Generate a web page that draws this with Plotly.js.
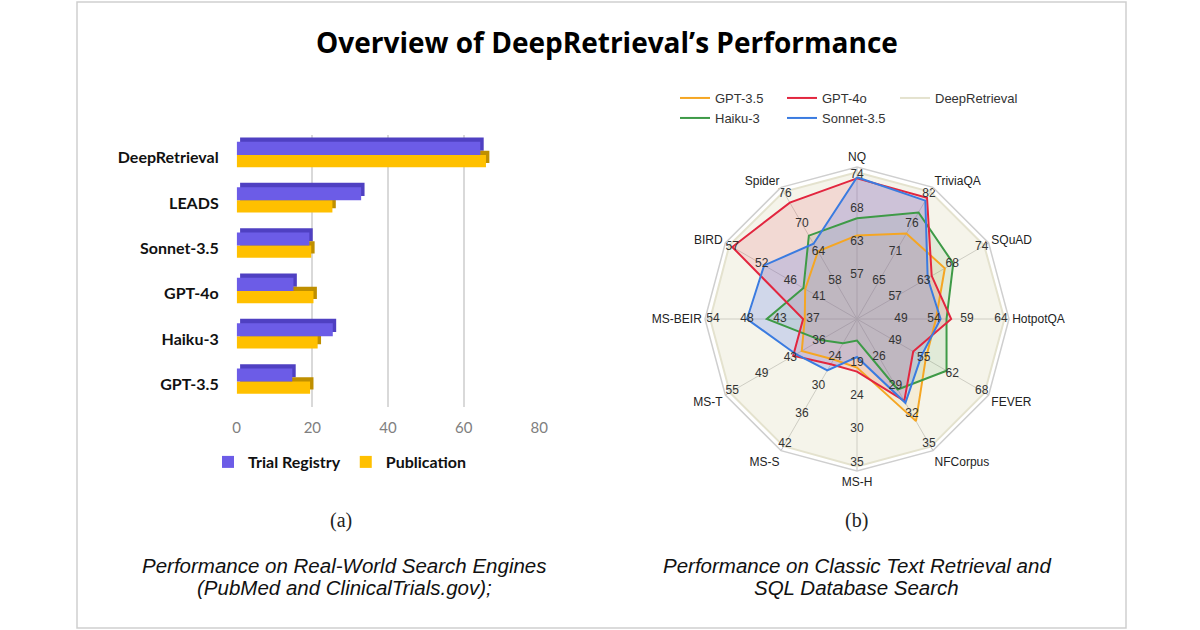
<!DOCTYPE html>
<html><head><meta charset="utf-8">
<script src="https://cdn.plot.ly/plotly-3.0.1.min.js"></script>
<style>html,body{margin:0;padding:0;background:#fff}#chart{width:1200px;height:630px}</style>
</head><body><div id="chart"></div>
<script>
// ---------- Bar chart data (a) ----------
const barCats = ['DeepRetrieval', 'LEADS', 'Sonnet-3.5', 'GPT-4o', 'Haiku-3', 'GPT-3.5'];
const trialRegistry = [64.4, 32.9, 19.2, 15.0, 25.4, 14.7];
const publication = [65.9, 25.3, 19.7, 20.3, 21.4, 19.4];
const barTicks = [0, 20, 40, 60, 80];

// ---------- Radar chart data (b) ----------
const radarAxes = ['NQ', 'TriviaQA', 'SQuAD', 'HotpotQA', 'FEVER', 'NFCorpus', 'MS-H', 'MS-S', 'MS-T', 'MS-BEIR', 'BIRD', 'Spider'];
const axisTicks = [
  [57, 63, 68, 74],
  [65, 71, 76, 82],
  [57, 63, 68, 74],
  [49, 54, 59, 64],
  [49, 55, 62, 68],
  [26, 29, 32, 35],
  [19, 24, 30, 35],
  [24, 30, 36, 42],
  [36, 43, 49, 55],
  [37, 43, 48, 54],
  [41, 46, 52, 57],
  [58, 64, 70, 76]
];
const gpt35 = [64.0, 74.3, 66.7, 54.3, 55.5, 32.7, 19.7, 24.5, 40.2, 38.5, 43.4, 64.2];
const gpt4o = [73.4, 81.3, 64.4, 56.6, 52.8, 30.6, 20.3, 25.5, 42.3, 38.8, 57.0, 74.3];
const haiku3 = [66.6, 78.3, 68.2, 55.9, 60.6, 29.4, 15.6, 21.1, 35.6, 45.0, 43.7, 67.5];
const sonnet35 = [73.6, 80.7, 63.7, 55.0, 54.5, 30.8, 18.1, 26.8, 41.6, 48.0, 51.5, 65.8];
const deepRetrieval = [74.5, 82.5, 74.5, 64.5, 68.6, 35.3, 35.5, 42.5, 55.5, 54.5, 57.5, 76.5];

// ---------- styling / scale (not data) ----------
const RING = [44, 77, 110, 144];   // radial ring positions of the 4 per-axis tick labels
const RMAX = 152;
function toR(v, t) {
  let i = 0;
  if (v > t[1]) i = 1;
  if (v > t[2]) i = 2;
  return RING[i] + (v - t[i]) / (t[i + 1] - t[i]) * (RING[i + 1] - RING[i]);
}
function norm(arr) {
  const r = arr.map((v, i) => toR(v, axisTicks[i]));
  return { r: r.concat([r[0]]), theta: radarAxes.concat([radarAxes[0]]) };
}

const traces = [];

// bars: 3D-like depth faces then front faces
const depthX = 0.9, depthY = 0.095;
const trOff = -0.35, trW = 0.29, pbOff = -0.06, pbW = 0.27;
const purple = '#6C5CE7', purpleDark = '#4F40C2', gold = '#FFC000', goldDark = '#BF8F00';
traces.push({type: 'bar', orientation: 'h', y: barCats, x: trialRegistry, base: depthX,
  offset: trOff - depthY, width: trW, marker: {color: purpleDark}, showlegend: false, hoverinfo: 'skip',
  xaxis: 'x', yaxis: 'y'});
traces.push({type: 'bar', orientation: 'h', y: barCats, x: publication, base: depthX,
  offset: pbOff - depthY, width: pbW, marker: {color: goldDark}, showlegend: false, hoverinfo: 'skip',
  xaxis: 'x', yaxis: 'y'});
traces.push({type: 'bar', orientation: 'h', y: barCats, x: publication, name: 'Publication',
  offset: pbOff, width: pbW, marker: {color: gold}, legend: 'legend2', legendrank: 2,
  xaxis: 'x', yaxis: 'y'});
traces.push({type: 'bar', orientation: 'h', y: barCats, x: trialRegistry, name: 'Trial Registry',
  offset: trOff, width: trW, marker: {color: purple}, legend: 'legend2', legendrank: 1,
  xaxis: 'x', yaxis: 'y'});

// radar: fills first (no legend), then outlines (legend shows lines)
const series = [
  {d: deepRetrieval, name: 'DeepRetrieval', color: '#E4E2CE', fill: 'rgba(232,229,206,0.42)', legend: 'legend4', rank: 3},
  {d: gpt35, name: 'GPT-3.5', color: '#F5A623', fill: 'rgba(245,166,35,0.09)', legend: 'legend', rank: 1},
  {d: haiku3, name: 'Haiku-3', color: '#3E9A47', fill: 'rgba(62,154,71,0.11)', legend: 'legend3', rank: 4},
  {d: gpt4o, name: 'GPT-4o', color: '#E2263F', fill: 'rgba(226,38,63,0.13)', legend: 'legend', rank: 2},
  {d: sonnet35, name: 'Sonnet-3.5', color: '#3A7BE0', fill: 'rgba(70,110,235,0.21)', legend: 'legend3', rank: 5}
];
series.forEach(s => {
  const n = norm(s.d);
  traces.push({type: 'scatterpolar', r: n.r, theta: n.theta, mode: 'lines', line: {width: 0, color: s.color},
    fill: 'toself', fillcolor: s.fill, showlegend: false, hoverinfo: 'skip', subplot: 'polar'});
});
series.forEach(s => {
  const n = norm(s.d);
  traces.push({type: 'scatterpolar', r: n.r, theta: n.theta, mode: 'lines', name: s.name,
    line: {width: 2, color: s.color}, legend: s.legend, legendrank: s.rank, subplot: 'polar'});
});

// per-axis tick labels
const tr = [], tt = [], tx = [];
axisTicks.forEach((t, i) => t.forEach((v, k) => { tr.push(RING[k]); tt.push(radarAxes[i]); tx.push(String(v)); }));
traces.push({type: 'scatterpolar', mode: 'text', r: tr, theta: tt, text: tx, showlegend: false,
  hoverinfo: 'skip', textfont: {family: 'Liberation Sans, Arial, sans-serif', size: 12, color: '#333'},
  subplot: 'polar'});

const W = 1200, H = 630;
const px = v => v / W, py = v => 1 - v / H;
const legFont = {family: 'Liberation Sans, Arial, sans-serif', size: 13, color: '#333'};
function ann(text, x, y, font) {
  return {text: text, x: px(x), y: py(y), xref: 'paper', yref: 'paper', xanchor: 'center', yanchor: 'middle',
    showarrow: false, font: font};
}
const capFont = {family: 'Liberation Sans, Arial, sans-serif', size: 20.5, color: '#111', style: 'italic'};
const serifFont = {family: 'Liberation Serif, serif', size: 20, color: '#222'};

const layout = {
  width: W, height: H, margin: {l: 0, r: 0, t: 0, b: 0},
  paper_bgcolor: '#fff', plot_bgcolor: 'rgba(0,0,0,0)',
  barmode: 'overlay', showlegend: true,
  font: {family: 'Liberation Sans, Arial, sans-serif', color: '#333'},
  xaxis: {domain: [px(236.7), px(539.3)], range: [0, 80], tickvals: barTicks, showgrid: true,
    gridcolor: '#D9D9D9', gridwidth: 2, zeroline: false, showline: false, ticks: '',
    ticklabelstandoff: 10, tickfont: {family: 'Lato, sans-serif', size: 15, color: '#808080'}, fixedrange: true},
  yaxis: {domain: [py(407), py(135)], autorange: 'reversed', type: 'category', showgrid: false,
    zeroline: false, showline: false, ticks: '', ticklabelstandoff: 17,
    tickfont: {family: 'Lato, sans-serif', size: 16, color: '#111', weight: 'bold'}},
  polar: {
    domain: {x: [px(705), px(1009)], y: [py(471), py(167)]},
    bgcolor: 'rgba(0,0,0,0)', gridshape: 'linear', hole: 0,
    radialaxis: {range: [0, RMAX], visible: true, showgrid: false, showticklabels: false, showline: false, ticks: ''},
    angularaxis: {type: 'category', categoryarray: radarAxes, rotation: 90, direction: 'clockwise',
      showgrid: true, gridcolor: '#BDBDBD', gridwidth: 1, showline: true, linecolor: '#CFCFCF', linewidth: 1.5,
      ticks: '', tickfont: {size: 12, color: '#222'}}
  },
  legend: {orientation: 'h', x: px(675), xanchor: 'left', y: py(98), yanchor: 'middle',
    font: legFont, entrywidth: 62, entrywidthmode: 'pixels', bgcolor: 'rgba(0,0,0,0)'},
  legend4: {orientation: 'h', x: px(895), xanchor: 'left', y: py(98), yanchor: 'middle',
    font: legFont, bgcolor: 'rgba(0,0,0,0)'},
  legend3: {orientation: 'h', x: px(675), xanchor: 'left', y: py(118), yanchor: 'middle',
    font: legFont, entrywidth: 62, entrywidthmode: 'pixels', bgcolor: 'rgba(0,0,0,0)'},
  legend2: {orientation: 'h', x: px(208), xanchor: 'left', y: py(462), yanchor: 'middle',
    font: {family: 'Lato, sans-serif', size: 16, color: '#111', weight: 'bold'},
    bgcolor: 'rgba(0,0,0,0)'},
  shapes: [{type: 'rect', xref: 'paper', yref: 'paper', x0: px(77), x1: px(1126), y0: py(628), y1: py(2),
    line: {color: '#CFCFCF', width: 1.5}, fillcolor: 'rgba(0,0,0,0)', layer: 'below'}],
  annotations: [
    ann('Overview of DeepRetrieval’s Performance', 607, 42,
      {family: 'Open Sans, sans-serif', size: 28, color: '#000', weight: 'bold'}),
    ann('(a)', 341, 520, serifFont),
    ann('(b)', 857, 520, serifFont),
    ann('Performance on Real-World Search Engines', 344, 565, capFont),
    ann('(PubMed and ClinicalTrials.gov);', 344, 587, capFont),
    ann('Performance on Classic Text Retrieval and', 857, 565, capFont),
    ann('SQL Database Search', 857, 587, capFont)
  ]
};

Plotly.newPlot('chart', traces, layout, {displayModeBar: false, staticPlot: true});
</script></body></html>
